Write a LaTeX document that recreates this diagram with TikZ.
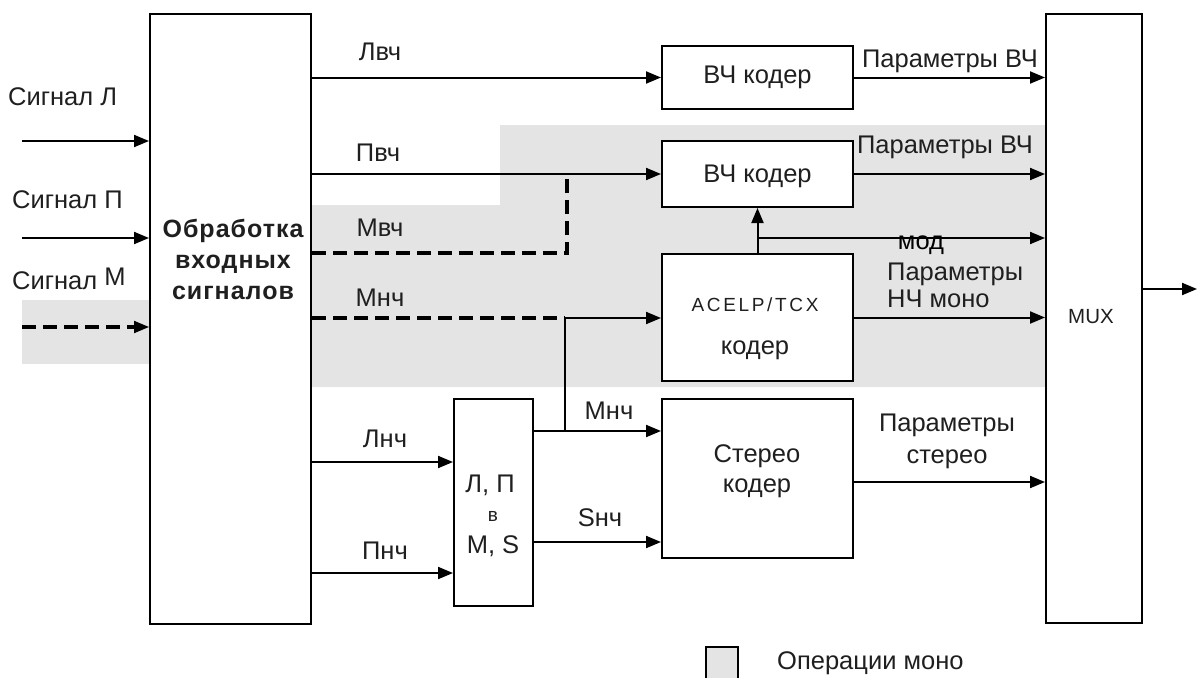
\documentclass[tikz,border=0pt]{standalone}
\usepackage{fontspec}
\setmainfont{Liberation Sans}
\newfontfamily\spacedfont[LetterSpace=14]{Liberation Sans}
\newfontfamily\boldspaced[LetterSpace=4]{Liberation Sans}
\usetikzlibrary{arrows.meta}
\definecolor{monogray}{RGB}{228,228,228}
\begin{document}
\begin{tikzpicture}[x=1pt,y=-1pt,
  every node/.style={font=\fontsize{25.5}{28}\selectfont, inner sep=0pt, text=black!88},
  box/.style={draw=black, line width=2pt, fill=white, inner sep=0pt},
  arr/.style={line width=2pt, -{Triangle[length=15pt,width=12pt]}},
  ln/.style={line width=2pt},
  dsh/.style={line width=3.2pt, dash pattern=on 14pt off 7pt}]
\useasboundingbox (0,0) rectangle (1198,677);
% mono operations areas
\fill[monogray] (311,205) -- (500,205) -- (500,125) -- (1046,125) -- (1046,387) -- (311,387) -- cycle;
\fill[monogray] (22,300) rectangle (150,364);
% blocks
\node[box, minimum width=161pt, minimum height=610pt] (proc) at (230.5,319) {};
\node[box, minimum width=96pt, minimum height=609pt] (mux) at (1094,318.5) {};
\node[box, minimum width=191pt, minimum height=63pt] (hv1) at (757.5,77.5) {};
\node[box, minimum width=191pt, minimum height=66pt] (hv2) at (757.5,174) {};
\node[box, minimum width=191pt, minimum height=127pt] (acelp) at (757.5,317.5) {};
\node[box, minimum width=191pt, minimum height=159pt] (stereo) at (757.5,478.5) {};
\node[box, minimum width=79pt, minimum height=207pt] (lpms) at (493.5,502.5) {};
% block texts
\node[font=\fontsize{25}{31}\selectfont\boldspaced\bfseries, align=center] (proct) at (233,259) {Обработка\\входных\\сигналов};
\node (hv1t) at (757.5,77) {ВЧ кодер};
\node (hv2t) at (757.5,176) {ВЧ кодер};
\node[font=\fontsize{19}{22}\selectfont\spacedfont] (acelpt1) at (755,305) {ACELP/TCX};
\node (acelpt2) at (755,350) {кодер};
\node (stt1) at (757,456) {Стерео};
\node (stt2) at (757,488) {кодер};
\node (lpt1) at (490,485) {Л, П};
\node[font=\fontsize{19}{22}\selectfont] (lpt2) at (493,516) {в};
\node (lpt3) at (493,546) {M, S};
\node[font=\fontsize{20.5}{24}\selectfont] (muxt) at (1091,317) {MUX};
% inputs
\coordinate (inL) at (22,141);
\coordinate (inP) at (22,238);
\coordinate (inM) at (22,327);
\draw[arr] (inL) -- (inL -| proc.west);
\draw[arr] (inP) -- (inP -| proc.west);
\draw[dsh] (inM) -- ([xshift=-13pt]inM -| proc.west);
\draw[arr] ([xshift=-15pt]inM -| proc.west) -- (inM -| proc.west);
\node[anchor=west] (sL) at (8,97) {Сигнал Л};
\node[anchor=west] (sP) at (12,200) {Сигнал П};
\node[anchor=west] (sM) at (12,279) {Сигнал \raisebox{4pt}{М}};
% HF paths
\draw[arr] (proc.east |- hv1.west) -- (hv1.west);
\draw[arr] (proc.east |- hv2.west) -- (hv2.west);
\coordinate (mvtop) at (567,174);
\coordinate (mvbend) at (567,253);
\draw[dsh] (proc.east |- mvbend) -- (mvbend) -- (mvtop);
\node (lvc) at (380,52) {Лвч};
\node (pvc) at (378,153) {Пвч};
\node (mvc) at (380,228) {Мвч};
% LF mono path
\coordinate (j) at (565,318);
\coordinate (j2) at (565,431);
\draw[dsh] (proc.east |- j) -- (j);
\draw[arr] (j) -- (j -| acelp.west);
\draw[ln] (j) -- (j2);
\node (mnc) at (380,298) {Мнч};
% L,R LF
\coordinate (ln) at (311,462);
\coordinate (pn) at (311,573);
\draw[arr] (ln) -- (ln -| lpms.west);
\draw[arr] (pn) -- (pn -| lpms.west);
\node (lnc) at (385,439) {Лнч};
\node (pnc) at (385,551) {Пнч};
% M,S to stereo
\coordinate (sn) at (533,542);
\draw[arr] (lpms.east |- j2) -- (stereo.west |- j2);
\draw[arr] (sn) -- (sn -| stereo.west);
\node (mnc2) at (609,411) {Мнч};
\node (snc) at (600,518) {Sнч};
% ACELP to HF coder and MUX
\coordinate (b) at (acelp.north |- 0,238);
\draw[arr] (acelp.north) -- (hv2.south);
\draw[arr] (b) -- (b -| mux.west);
\node[text=black] (mod) at (921,245) {мод};
% outputs
\draw[arr] (hv1.east) -- (hv1.east -| mux.west);
\draw[arr] (hv2.east) -- (hv2.east -| mux.west);
\draw[arr] (acelp.east) -- (acelp.east -| mux.west);
\coordinate (so) at (853,482);
\draw[arr] (so) -- (so -| mux.west);
\node (ph1) at (950,61) {Параметры ВЧ};
\node (ph2) at (945,147) {Параметры ВЧ};
\node[anchor=west, align=left, font=\fontsize{25.5}{27}\selectfont] (pnm) at (887,285) {Параметры\\НЧ моно};
\node[align=center, font=\fontsize{25.5}{32}\selectfont] (pst) at (947,441) {Параметры\\стерео};
\coordinate (out) at (1197,289);
\draw[arr] (mux.east |- out) -- (out);
% legend
\node[draw=black, line width=1.5pt, fill=monogray, minimum width=32pt, minimum height=34pt] (leg) at (722,664) {};
\node[anchor=west] (legt) at (777,663) {Операции моно};
\end{tikzpicture}
\end{document}
